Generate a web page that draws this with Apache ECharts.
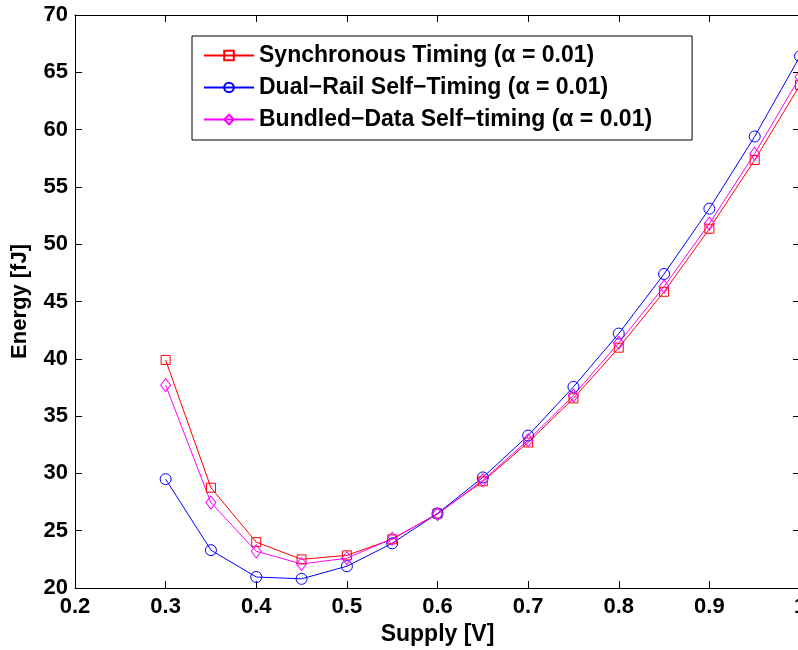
<!DOCTYPE html>
<html>
<head>
<meta charset="utf-8">
<script src="https://cdn.jsdelivr.net/npm/echarts@6/dist/echarts.min.js"></script>
<style>
html,body{margin:0;padding:0;background:#fff;}
#c{width:798px;height:650px;}
</style>
</head>
<body>
<div id="c"></div>
<script>
const supply = [0.3, 0.35, 0.4, 0.45, 0.5, 0.55, 0.6, 0.65, 0.7, 0.75, 0.8, 0.85, 0.9, 0.95, 1.0];
const syncTiming = [39.9, 28.75, 24.0, 22.5, 22.85, 24.25, 26.5, 29.3, 32.7, 36.55, 40.97, 45.85, 51.35, 57.35, 63.9];
const dualRail = [29.5, 23.3, 20.96, 20.8, 21.9, 23.9, 26.5, 29.65, 33.3, 37.55, 42.2, 47.4, 53.1, 59.4, 66.4];
const bundledData = [37.7, 27.45, 23.2, 22.1, 22.6, 24.3, 26.45, 29.4, 32.9, 36.8, 41.4, 46.3, 51.8, 57.9, 64.6];
const seriesNames = ['Synchronous Timing (\u03b1 = 0.01)', 'Dual\u2212Rail Self\u2212Timing (\u03b1 = 0.01)', 'Bundled\u2212Data Self\u2212timing (\u03b1 = 0.01)'];
const xTickMin = 0.2, xTickMax = 1.0, xTickStep = 0.1;
const yTickMin = 20, yTickMax = 70, yTickStep = 5;

const FONT = "'Liberation Sans', Arial, Helvetica, sans-serif";
const pairs = arr => supply.map((x, i) => [x, arr[i]]);

function mkSeries(name, data, color, symbol, size) {
  return {
    name: name, type: 'line', data: pairs(data),
    symbol: symbol, symbolSize: size,
    lineStyle: {color: color, width: 1},
    itemStyle: {color: 'rgba(255,255,255,0)', borderColor: color, borderWidth: 1},
    emphasis: {disabled: true},
    animation: false, clip: false
  };
}

const axisCommon = {
  axisLine: {show: true, onZero: false, lineStyle: {color: '#000', width: 1}},
  axisTick: {show: true, inside: true, length: 7, lineStyle: {color: '#000', width: 1}},
  splitLine: {show: false}
};

const chart = echarts.init(document.getElementById('c'), null, {renderer: 'canvas'});
chart.setOption({
  animation: false,
  backgroundColor: '#fff',
  grid: {left: 75, top: 15, width: 725, height: 573, containLabel: false, outerBoundsMode: 'none'},
  legend: {
    orient: 'vertical', left: 192, top: 36,
    padding: [8, 40, 9, 11],
    itemWidth: 50, itemHeight: 12, itemGap: 9,
    borderColor: '#000', borderWidth: 1, backgroundColor: '#fff',
    textStyle: {fontFamily: FONT, fontWeight: 'bold', fontSize: 23, color: '#000'},
    data: seriesNames
  },
  xAxis: [
    Object.assign({}, axisCommon, {
      type: 'value', min: xTickMin, max: xTickMax, interval: xTickStep, position: 'bottom',
      name: 'Supply [V]', nameLocation: 'middle', nameGap: 33,
      nameTextStyle: {fontFamily: FONT, fontWeight: 'bold', fontSize: 23, color: '#000'},
      axisLabel: {fontFamily: FONT, fontWeight: 'bold', fontSize: 22, color: '#000', margin: 8,
        formatter: v => (Math.abs(v - 1) < 1e-9 ? '1' : v.toFixed(1))}
    }),
    Object.assign({}, axisCommon, {
      type: 'value', min: xTickMin, max: xTickMax, interval: xTickStep, position: 'top',
      axisLabel: {show: false}
    })
  ],
  yAxis: [
    Object.assign({}, axisCommon, {
      type: 'value', min: yTickMin, max: yTickMax, interval: yTickStep, position: 'left',
      name: 'Energy [fJ]', nameLocation: 'middle', nameGap: 44,
      nameTextStyle: {fontFamily: FONT, fontWeight: 'bold', fontSize: 22, color: '#000'},
      axisLabel: {fontFamily: FONT, fontWeight: 'bold', fontSize: 22, color: '#000', margin: 7}
    }),
    Object.assign({}, axisCommon, {
      type: 'value', min: yTickMin, max: yTickMax, interval: yTickStep, position: 'right',
      axisLabel: {show: false}
    })
  ],
  series: [
    mkSeries(seriesNames[0], syncTiming, '#ff0000', 'rect', 9),
    mkSeries(seriesNames[1], dualRail, '#0000ff', 'circle', 11),
    mkSeries(seriesNames[2], bundledData, '#ff00ff', 'diamond', [10, 13])
  ]
});
</script>
</body>
</html>
